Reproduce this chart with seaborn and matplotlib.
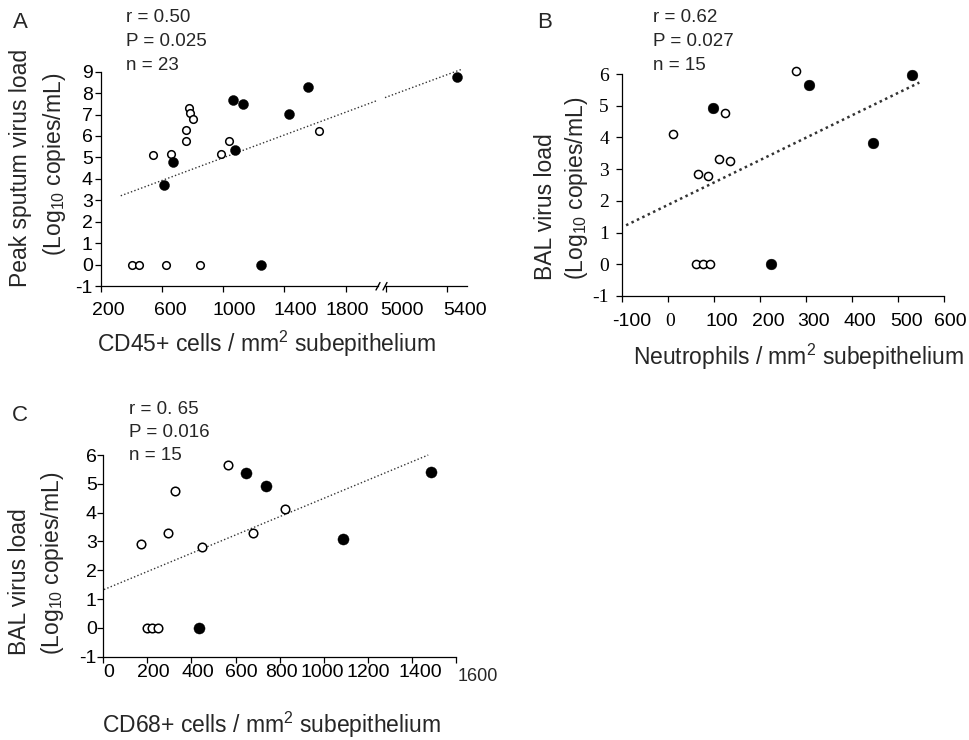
import numpy as np
import pandas as pd
import matplotlib
matplotlib.use("Agg")
import matplotlib.pyplot as plt
from matplotlib.lines import Line2D
from matplotlib.transforms import ScaledTranslation
import seaborn as sns

# ---------------- data ----------------
# Panel A: CD45+ cells vs peak sputum virus load
A_open_x = [405, 450, 627, 849, 542, 659, 757, 757, 777, 784, 803, 986, 1039, 1627]
A_open_y = [0, 0, 0, 0, 5.09, 5.17, 6.26, 5.78, 7.30, 7.07, 6.80, 5.16, 5.75, 6.21]
A_fill_x = [614, 673, 1065, 1130, 1078, 1431, 1555, 1248, 5463]
A_fill_y = [3.70, 4.78, 7.69, 7.50, 5.36, 7.03, 8.28, 0, 8.74]
A_line_left_x = [331, 2012]
A_line_left_y = [3.21, 7.67]
A_line_right_x = [4993, 5498]
A_line_right_y = [7.79, 9.12]
A_xticks_left = [200, 600, 1000, 1400, 1800]
A_xticks_right = [5000, 5400]
A_yticks = [-1, 0, 1, 2, 3, 4, 5, 6, 7, 8, 9]
A_stats = ["r = 0.50", "P = 0.025", "n = 23"]

# Panel B: neutrophils vs BAL virus load
B_open_x = [11, 280, 125, 67, 87, 111, 135, 62, 77, 93]
B_open_y = [4.10, 6.08, 4.78, 2.86, 2.79, 3.31, 3.26, 0, 0, 0]
B_fill_x = [98, 307, 531, 447, 225]
B_fill_y = [4.94, 5.65, 5.98, 3.84, 0]
B_line_x = [-90, 547]
B_line_y = [1.23, 5.73]
B_xticks = [-100, 0, 100, 200, 300, 400, 500, 600]
B_yticks = [-1, 0, 1, 2, 3, 4, 5, 6]
B_stats = ["r = 0.62", "P = 0.027", "n = 15"]

# Panel C: CD68+ cells vs BAL virus load
C_open_x = [170, 293, 323, 447, 565, 679, 826, 200, 223, 250]
C_open_y = [2.92, 3.28, 4.75, 2.81, 5.65, 3.30, 4.11, 0, 0, 0]
C_fill_x = [647, 738, 1087, 1488, 432]
C_fill_y = [5.36, 4.92, 3.10, 5.40, 0]
C_line_x = [3, 1474]
C_line_y = [1.33, 6.00]
C_xticks = [0, 200, 400, 600, 800, 1000, 1200, 1400, 1600]
C_yticks = [-1, 0, 1, 2, 3, 4, 5, 6]
C_stats = ["r = 0. 65", "P = 0.016", "n = 15"]

# ---------------- style ----------------
sns.set_theme(style="ticks")
plt.rcParams["font.family"] = ["Liberation Sans", "DejaVu Sans"]
plt.rcParams["mathtext.fontset"] = "custom"
plt.rcParams["mathtext.rm"] = "Liberation Sans"
plt.rcParams["mathtext.it"] = "Liberation Sans:italic"
plt.rcParams["mathtext.bf"] = "Liberation Sans:bold"

W, H = 969, 740
fig = plt.figure(figsize=(W / 100, H / 100), dpi=100)
fig.patch.set_facecolor("white")


def box(l, t, r, b):
    return [l / W, 1 - b / H, (r - l) / W, (b - t) / H]


def fx(x):
    return x / W


def fy(y):
    return 1 - y / H


TICK_FS = 14
LABEL_FS = 16.5
STAT_FS = 13.5
LETTER_FS = 16


def style_axes(ax, xpad, ypad, left=True):
    for s in ["top", "right"]:
        ax.spines[s].set_visible(False)
    for s in ["left", "bottom"]:
        ax.spines[s].set_linewidth(0.9)
        ax.spines[s].set_color("black")
    ax.tick_params(direction="out", length=4.5, width=0.9, colors="black",
                   labelsize=TICK_FS)
    ax.tick_params(axis="x", pad=xpad)
    ax.tick_params(axis="y", pad=ypad)
    if not left:
        ax.spines["left"].set_visible(False)
        ax.tick_params(axis="y", left=False, labelleft=False)
    ax.set_facecolor("white")
    ax.grid(False)


def draw_points(ax, ox, oy, fx_, fy_, s_open=30, s_fill=52, clip=False):
    sns.scatterplot(x=ox, y=oy, ax=ax, s=s_open, color="white", edgecolor="black",
                    linewidth=1.1, zorder=3, clip_on=clip, legend=False)
    sns.scatterplot(x=fx_, y=fy_, ax=ax, s=s_fill, color="black", edgecolor="black",
                    linewidth=0.3, zorder=3, clip_on=clip, legend=False)


def draw_line(ax, x, y, lw=1.0, ls=(0, (1, 1.6))):
    sns.lineplot(x=x, y=y, ax=ax, color="#333333", linewidth=lw, linestyle=ls,
                 zorder=2, legend=False)
    for ln in ax.lines:
        ln.set_clip_on(False)


def shift_xlabels(ax, dxs):
    for lab, dx in zip(ax.get_xticklabels(), dxs):
        lab.set_transform(lab.get_transform() +
                          ScaledTranslation(dx / 100, 0, fig.dpi_scale_trans))


# ---------------- panel A ----------------
axA = fig.add_axes(box(100.7, 71.7, 378, 286))
axA2 = fig.add_axes(box(385, 71.7, 467, 286))
style_axes(axA, xpad=7, ypad=1.3)
style_axes(axA2, xpad=7, ypad=1.3, left=False)

draw_points(axA, A_open_x, A_open_y, A_fill_x, A_fill_y, clip=True)
draw_line(axA, A_line_left_x, A_line_left_y)
draw_points(axA2, A_open_x, A_open_y, A_fill_x, A_fill_y, clip=True)
draw_line(axA2, A_line_right_x, A_line_right_y)

axA.set_xlim(200, 2012)
axA2.set_xlim(4993, 5530)
for a in (axA, axA2):
    a.set_ylim(-1, 9)
    a.set_xlabel("")
    a.set_ylabel("")
axA.set_xticks(A_xticks_left)
axA.set_xticklabels([str(v) for v in A_xticks_left])
axA2.set_xticks(A_xticks_right)
axA2.set_xticklabels([str(v) for v in A_xticks_right])
axA.set_yticks(A_yticks)
axA.set_yticklabels([str(v) for v in A_yticks])
shift_xlabels(axA, [8, 8, 11, 11, 2])
shift_xlabels(axA2, [16, 18])

# break marks
for x0 in (376, 383):
    fig.add_artist(Line2D([fx(x0), fx(x0 + 4)], [fy(290), fy(282.5)],
                          color="black", linewidth=1.0))

fig.text(fx(266), fy(352), "CD45+ cells / mm$^2$ subepithelium",
         ha="center", va="baseline", fontsize=LABEL_FS)
fig.text(fx(21), fy(287), "Peak sputum virus load", rotation=90,
         ha="center", va="bottom", fontsize=LABEL_FS)
fig.text(fx(54), fy(256), "(Log$_{10}$ copies/mL)", rotation=90,
         ha="center", va="bottom", fontsize=LABEL_FS)
for i, s in enumerate(A_stats):
    fig.text(fx(126), fy(18 + 23.5 * i), s, ha="left", va="center", fontsize=STAT_FS)
fig.text(fx(13), fy(22), "A", ha="left", va="center", fontsize=LETTER_FS)

# ---------------- panel B ----------------
axB = fig.add_axes(box(621.5, 74, 943.7, 296))
style_axes(axB, xpad=7.7, ypad=4.5)
draw_points(axB, B_open_x, B_open_y, B_fill_x, B_fill_y, s_open=34, s_fill=60)
draw_line(axB, B_line_x, B_line_y, lw=1.8, ls=(0, (1, 1.4)))
axB.set_xlim(-100, 600)
axB.set_ylim(-1, 6)
axB.set_xlabel("")
axB.set_ylabel("")
axB.set_xticks(B_xticks)
axB.set_xticklabels([str(v) for v in B_xticks])
axB.set_yticks(B_yticks)
axB.set_yticklabels([str(v) for v in B_yticks])
for t in axB.get_yticklabels():
    t.set_fontfamily(["Liberation Serif", "DejaVu Serif"])
for t in axB.get_xticklabels():
    if t.get_text() == "0":
        t.set_fontfamily(["Liberation Serif", "DejaVu Serif"])
shift_xlabels(axB, [10, 3, 8, 9, 8, 8, 9, 7])

fig.text(fx(798), fy(365), "Neutrophils / mm$^2$ subepithelium",
         ha="center", va="baseline", fontsize=LABEL_FS)
fig.text(fx(545), fy(280), "BAL virus load", rotation=90,
         ha="center", va="bottom", fontsize=LABEL_FS)
fig.text(fx(577), fy(280), "(Log$_{10}$ copies/mL)", rotation=90,
         ha="center", va="bottom", fontsize=LABEL_FS)
for i, s in enumerate(B_stats):
    fig.text(fx(653), fy(18 + 23.5 * i), s, ha="left", va="center", fontsize=STAT_FS)
fig.text(fx(537), fy(22), "B", ha="left", va="center", fontsize=LETTER_FS)

# ---------------- panel C ----------------
axC = fig.add_axes(box(103.3, 455, 456, 656.7))
style_axes(axC, xpad=0.8, ypad=0.3)
draw_points(axC, C_open_x, C_open_y, C_fill_x, C_fill_y, s_open=38, s_fill=64)
draw_line(axC, C_line_x, C_line_y)
axC.set_xlim(0, 1600)
axC.set_ylim(-1, 6)
axC.set_xlabel("")
axC.set_ylabel("")
axC.set_xticks(C_xticks)
c_labels = [str(v) for v in C_xticks]
last_label = c_labels[-1]
c_labels[-1] = ""
axC.set_xticklabels(c_labels)
axC.set_yticks(C_yticks)
axC.set_yticklabels([str(v) for v in C_yticks])
shift_xlabels(axC, [5, 6, 6, 6, 2, -1, 0, 8, 0])
axC.annotate(last_label, xy=(C_xticks[-1], 0), xycoords=("data", "axes fraction"),
             xytext=(16, -8), textcoords="offset points", ha="center", va="top",
             fontsize=13)

fig.text(fx(271), fy(733), "CD68+ cells / mm$^2$ subepithelium",
         ha="center", va="baseline", fontsize=LABEL_FS)
fig.text(fx(20), fy(655), "BAL virus load", rotation=90,
         ha="center", va="bottom", fontsize=LABEL_FS)
fig.text(fx(52), fy(655), "(Log$_{10}$ copies/mL)", rotation=90,
         ha="center", va="bottom", fontsize=LABEL_FS)
for i, s in enumerate(C_stats):
    fig.text(fx(129), fy(409 + 23.5 * i), s, ha="left", va="center", fontsize=STAT_FS)
fig.text(fx(12), fy(415), "C", ha="left", va="center", fontsize=LETTER_FS)

fig.savefig("out.png", dpi=100, facecolor="white")
